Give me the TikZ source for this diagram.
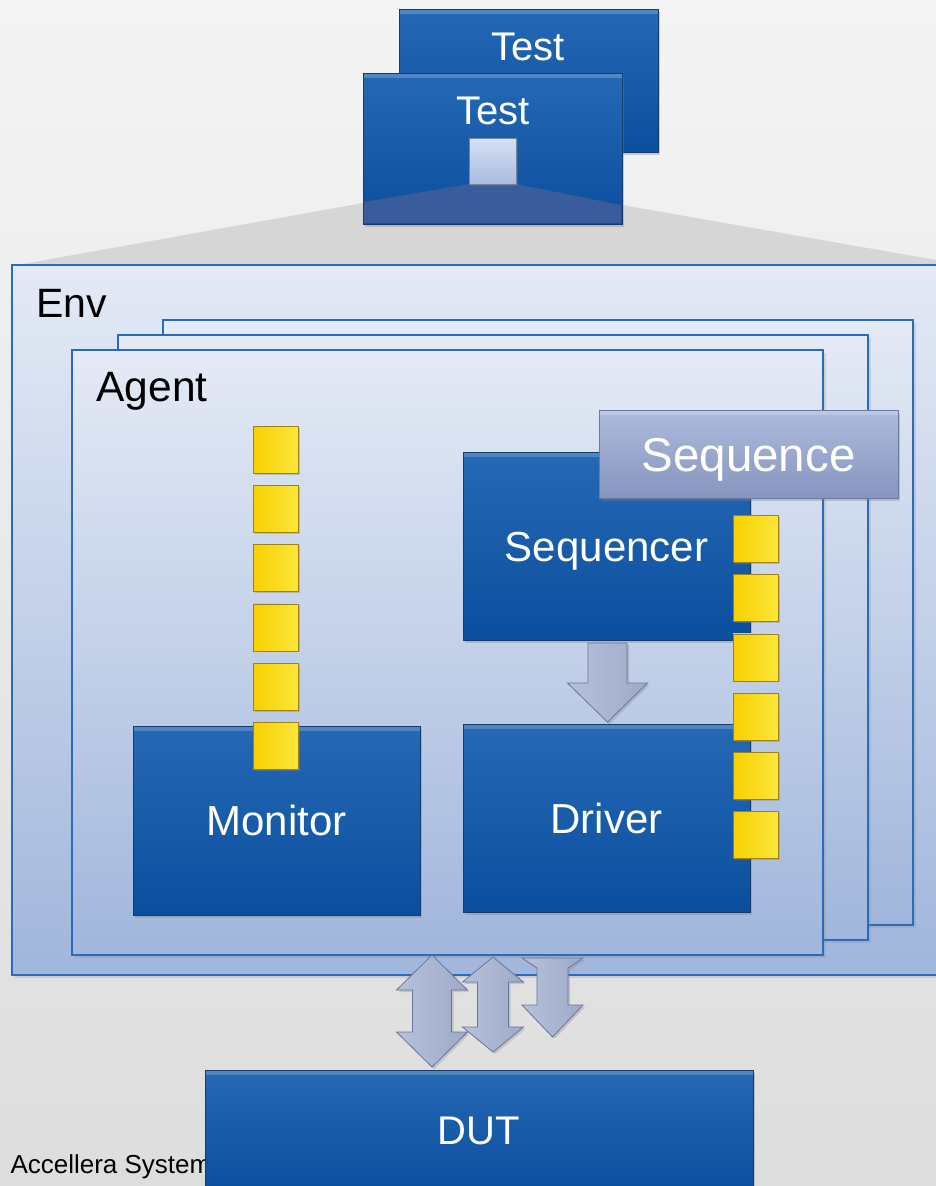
\documentclass[tikz,border=0pt]{standalone}
\usepackage{fontspec}
\setmainfont{Liberation Sans}
\usetikzlibrary{positioning}
\usetikzlibrary{calc}
\usetikzlibrary{shadows}

\definecolor{bgtop}{HTML}{F4F4F4}
\definecolor{bgbot}{HTML}{DDDDDD}
\definecolor{funnel}{HTML}{D6D6D6}
\definecolor{bluetop}{HTML}{2569B5}
\definecolor{bluebot}{HTML}{0A4E9E}
\definecolor{blueedge}{HTML}{163B6C}
\definecolor{frametop}{HTML}{E4EAF5}
\definecolor{framebot}{HTML}{A1B6DC}
\definecolor{frameedge}{HTML}{2A6CB9}
\definecolor{seqtop}{HTML}{AEBBDC}
\definecolor{seqbot}{HTML}{8695BF}
\definecolor{seqedge}{HTML}{6A7AA4}
\definecolor{portfill}{HTML}{F7D000}
\definecolor{portlite}{HTML}{FBE63A}
\definecolor{portedge}{HTML}{9E8216}
\definecolor{arrowfill}{HTML}{9DAAC8}
\definecolor{arrowlite}{HTML}{B7C1DA}
\definecolor{arrowedge}{HTML}{67769A}
\definecolor{sqtop}{HTML}{D6E0F2}
\definecolor{sqbot}{HTML}{A7BBE0}
\definecolor{shadeblue}{HTML}{3A5C9C}

% block arrow: top tip, bottom tip, head half width, shaft half width, head length
\newcommand{\busarrow}[5]{%
  \draw[blockarrow] (#1) -- ($(#1)+(#3,#5)$) -- ($(#1)+(#4,#5)$) -- ($(#2)+(#4,-#5)$)
    -- ($(#2)+(#3,-#5)$) -- (#2) -- ($(#2)+(-#3,-#5)$) -- ($(#2)+(-#4,-#5)$)
    -- ($(#1)+(-#4,#5)$) -- ($(#1)+(-#3,#5)$) -- cycle;}

\begin{document}
\begin{tikzpicture}[x=1pt, y=-1pt,
    blubox/.style={anchor=north west, inner sep=0pt, outer sep=0pt, draw=blueedge, line width=1pt,
        top color=bluetop, bottom color=bluebot, text=white,
        font=\fontsize{42}{50}\selectfont, text height=30pt, text depth=0pt,
        drop shadow={shadow xshift=2pt, shadow yshift=-3pt, opacity=0.35},
        path picture={\fill[white, opacity=0.2] (path picture bounding box.north west)
            rectangle ($(path picture bounding box.north east)+(0,5)$);}},
    seqbox/.style={blubox, draw=seqedge, top color=seqtop, bottom color=seqbot,
        font=\fontsize{47.5}{56}\selectfont, text height=34pt},
    frame/.style={anchor=north west, inner sep=0pt, outer sep=0pt, draw=frameedge, line width=1.6pt,
        top color=frametop, bottom color=framebot,
        drop shadow={shadow xshift=3pt, shadow yshift=-3pt, opacity=0.22}},
    port/.style={minimum width=45pt, minimum height=47pt, inner sep=0pt, draw=portedge, line width=0.8pt,
        left color=portfill, right color=portlite,
        drop shadow={shadow xshift=1.5pt, shadow yshift=-1.5pt, opacity=0.35}},
    blockarrow/.style={draw=arrowedge, line width=0.8pt, left color=arrowlite, right color=arrowfill,
        drop shadow={shadow xshift=2pt, shadow yshift=-2pt, opacity=0.3}},
    testtext/.style={anchor=base, text=white, font=\fontsize{40}{48}\selectfont},
    lbl/.style={anchor=base west, text=black}]

\useasboundingbox (0,0) rectangle (936,1186);
\fill[top color=bgtop, bottom color=bgbot] (0,0) rectangle (936,1186);

% zoom funnel from test down to env
\fill[funnel] (363,203) -- (622,205) -- (936,260) -- (936,266) -- (12,266) -- cycle;

% tests
\node[blubox, minimum width=259pt, minimum height=143pt] (testb) at (399,9) {};
\node[testtext] (testbtxt) at ($(testb.north)+(-0.5,51)$) {Test};
\node[blubox, minimum width=259pt, minimum height=151pt] (testf) at (363,73) {};
\fill[shadeblue] (364,202) -- (469,184) -- (516,184) -- (621,205) -- (621,223) -- (364,223) -- cycle;
\node[testtext] (testftxt) at ($(testf.north)+(0.5,51)$) {Test};
\node[anchor=north west, minimum width=47pt, minimum height=46pt, inner sep=0pt, draw=sqbot!70!black,
    line width=0.8pt, top color=sqtop, bottom color=sqbot,
    drop shadow={shadow xshift=1.5pt, shadow yshift=-1.5pt, opacity=0.3}] (tsq) at (469,138) {};

% env and agents
\node[frame, minimum width=933pt, minimum height=710pt] (env) at (12,265) {};
\node[lbl, font=\fontsize{41}{48}\selectfont] (envlbl) at ($(env.north west)+(21,52)$) {Env};
\node[frame, minimum width=750pt, minimum height=605pt] (agentc) at (163,320) {};
\node[frame, minimum width=750pt, minimum height=605pt] (agentb) at (118,335) {};
\node[frame, minimum width=751pt, minimum height=605pt] (agent) at (72,350) {};
\node[lbl, font=\fontsize{42.5}{50}\selectfont] (agentlbl) at ($(agent.north west)+(21,51)$) {Agent};

% components
\node[blubox, minimum width=287pt, minimum height=188pt] (seqr) at (463,452) {Sequencer};
\node[seqbox, minimum width=299pt, minimum height=88pt] (seq) at (599,410) {Sequence};
\node[blubox, minimum width=287pt, minimum height=189pt] (mon) at (133,726) {Monitor};
\node[blubox, minimum width=287pt, minimum height=188pt] (drv) at (463,724) {Driver};

% ports
\foreach \i in {0,...,5}
    \node[port] (mp\i) at ($(mon.north)+(-1,20-59.3*\i)$) {};
\foreach \i in {0,...,5}
    \node[port] (dp\i) at ($(seqr.north east)+(5.5,87+59.2*\i)$) {};

% sequencer to driver
\coordinate (sd0) at ($(seqr.south)+(1,3)$);
\coordinate (sd1) at ($(drv.north)+(1,-2)$);
\draw[blockarrow] ($(sd0)+(-19.5,0)$) -- ($(sd0)+(19.5,0)$) -- ($(sd1)+(19.5,-39)$) -- ($(sd1)+(40,-39)$)
    -- (sd1) -- ($(sd1)+(-40,-39)$) -- ($(sd1)+(-19.5,-39)$) -- cycle;

% DUT
\node[lbl, font=\fontsize{26}{31}\selectfont] (acc) at (7,1173) {Accellera System};
\node[blubox, minimum width=548pt, minimum height=120pt, font=\fontsize{40}{48}\selectfont,
    text height=28.6pt] (dut) at (205,1070) {DUT};

% agent to DUT arrows
\coordinate (bus3t) at (552.5,958);
\coordinate (bus3b) at ($(dut.north)+(73.5,-33)$);
\draw[blockarrow] ($(bus3t)+(-30.5,0)$) -- ($(bus3t)+(30.5,0)$) -- ($(bus3t)+(15.5,10)$)
    -- ($(bus3b)+(15.5,-32)$) -- ($(bus3b)+(30.5,-32)$) -- (bus3b) -- ($(bus3b)+(-30.5,-32)$)
    -- ($(bus3b)+(-15.5,-32)$) -- ($(bus3t)+(-15.5,10)$) -- cycle;
\coordinate (bus2t) at (493,957);
\coordinate (bus2b) at ($(dut.north)+(14,-18)$);
\busarrow{bus2t}{bus2b}{30.5}{15.5}{25}
\coordinate (bus1t) at (432,955);
\coordinate (bus1b) at ($(dut.north)+(-47,-3)$);
\busarrow{bus1t}{bus1b}{35.5}{19.5}{35}
\end{tikzpicture}
\end{document}
